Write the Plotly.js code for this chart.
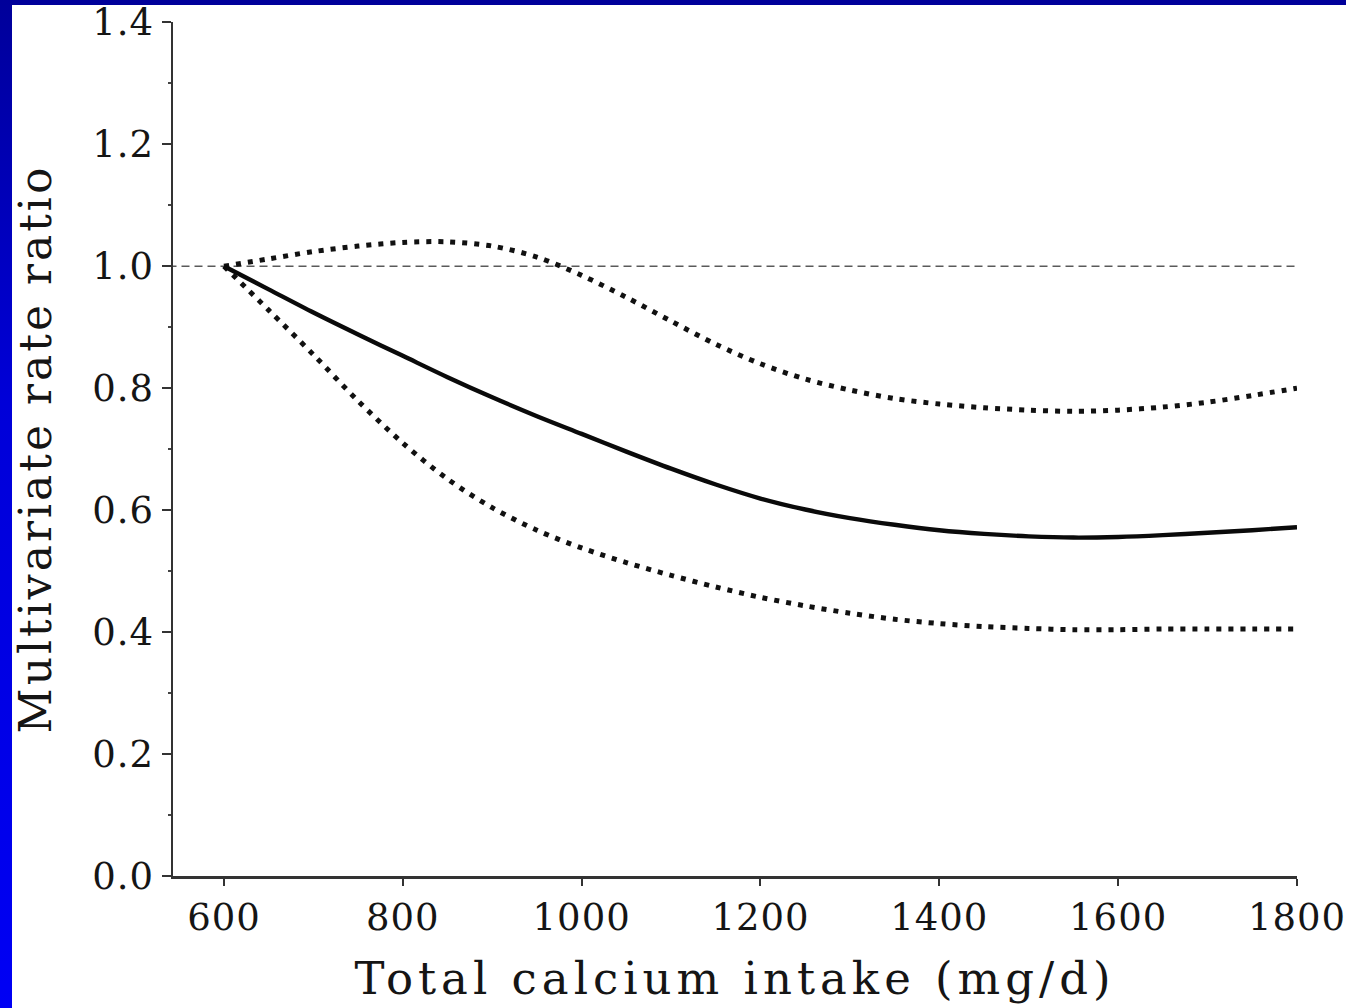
<!DOCTYPE html>
<html>
<head>
<meta charset="utf-8">
<script src="https://cdn.plot.ly/plotly-3.0.1.min.js"></script>
<style>
  html, body { margin: 0; padding: 0; width: 1346px; height: 1008px; overflow: hidden;
    background: linear-gradient(to bottom, #00009a 0%, #0000d8 40%, #0000f4 100%); }
  #sheet { position: absolute; left: 12px; top: 5px; width: 1334px; height: 1003px; background: #fff; }
  #chart { position: absolute; left: 0; top: 0; width: 1346px; height: 1008px; }
  #chart .xtitle { letter-spacing: 5px; }
  #chart .ytitle { letter-spacing: 3px; }
  #chart .xtick text { letter-spacing: 1px; }
  #chart .ytick text { letter-spacing: 1px; }
</style>
</head>
<body>
<div id="sheet"></div>
<div id="chart"></div>
<script>
// Total calcium intake (mg/d)
const intake = [600, 650, 700, 750, 800, 850, 900, 950, 1000, 1050, 1100, 1150, 1200,
                1250, 1300, 1350, 1400, 1450, 1500, 1550, 1600, 1650, 1700, 1750, 1800];
// Multivariate rate ratio (point estimate)
const rateRatio = [1.000, 0.962, 0.924, 0.888, 0.853, 0.818, 0.785, 0.754, 0.725, 0.696, 0.668, 0.642, 0.619,
                   0.601, 0.587, 0.576, 0.567, 0.561, 0.557, 0.555, 0.556, 0.559, 0.563, 0.567, 0.572];
// Upper 95% confidence limit
const upperCI = [1.000, 1.012, 1.024, 1.033, 1.039, 1.040, 1.033, 1.015, 0.985, 0.949, 0.910, 0.872, 0.840,
                 0.815, 0.797, 0.783, 0.774, 0.768, 0.764, 0.762, 0.764, 0.769, 0.777, 0.788, 0.800];
// Lower 95% confidence limit
const lowerCI = [1.000, 0.928, 0.855, 0.779, 0.710, 0.651, 0.604, 0.567, 0.538, 0.514, 0.493, 0.474, 0.457,
                 0.443, 0.431, 0.421, 0.414, 0.409, 0.406, 0.404, 0.404, 0.405, 0.405, 0.405, 0.405];
const referenceRatio = 1.0;
const xTicks = [600, 800, 1000, 1200, 1400, 1600, 1800];
const yTicks = [0.0, 0.2, 0.4, 0.6, 0.8, 1.0, 1.2, 1.4];
const yTickText = yTicks.map(v => v.toFixed(1));

const serif = '"DejaVu Serif", "Liberation Serif", serif';
const ink = '#151515';

const dotted = { color: '#111', width: 5, dash: '5px,7px', shape: 'spline', smoothing: 0.9 };

const traces = [
  { x: intake, y: upperCI, mode: 'lines', line: dotted, hoverinfo: 'skip', showlegend: false },
  { x: intake, y: lowerCI, mode: 'lines', line: dotted, hoverinfo: 'skip', showlegend: false },
  { x: intake, y: rateRatio, mode: 'lines',
    line: { color: '#0a0a0a', width: 4.4, shape: 'spline', smoothing: 0.9 }, hoverinfo: 'skip', showlegend: false }
];

const layout = {
  width: 1346, height: 1008,
  margin: { l: 173, r: 49, t: 22, b: 132 },
  paper_bgcolor: 'rgba(0,0,0,0)', plot_bgcolor: 'rgba(0,0,0,0)',
  font: { family: serif, color: ink },
  showlegend: false,
  xaxis: {
    range: [543, 1800],
    tickvals: xTicks, ticktext: xTicks.map(String),
    ticks: 'outside', ticklen: 7, tickwidth: 2, tickcolor: '#333',
    showline: true, linecolor: '#333', linewidth: 2.5,
    showgrid: false, zeroline: false,
    tickfont: { family: serif, size: 37, color: ink },
    title: { text: 'Total calcium intake (mg/d)', font: { family: serif, size: 45, color: ink }, standoff: 25 }
  },
  yaxis: {
    range: [0, 1.4005],
    tickvals: yTicks, ticktext: yTickText,
    ticks: 'outside', ticklen: 9, tickwidth: 2, tickcolor: '#333',
    minor: { dtick: 0.1, ticks: 'outside', ticklen: 3, tickwidth: 2, tickcolor: '#444' },
    showline: true, linecolor: '#333', linewidth: 2.5,
    showgrid: false, zeroline: false,
    tickfont: { family: serif, size: 37, color: ink },
    title: { text: 'Multivariate rate ratio', font: { family: serif, size: 44, color: ink }, standoff: 30 }
  },
  shapes: [
    { type: 'line', xref: 'paper', x0: -0.004, x1: 1, yref: 'y', y0: referenceRatio, y1: referenceRatio,
      line: { color: '#5a5a5a', width: 1.6, dash: '8px,5px' }, layer: 'below' }
  ]
};

Plotly.newPlot('chart', traces, layout, { displayModeBar: false, staticPlot: true });
</script>
</body>
</html>
